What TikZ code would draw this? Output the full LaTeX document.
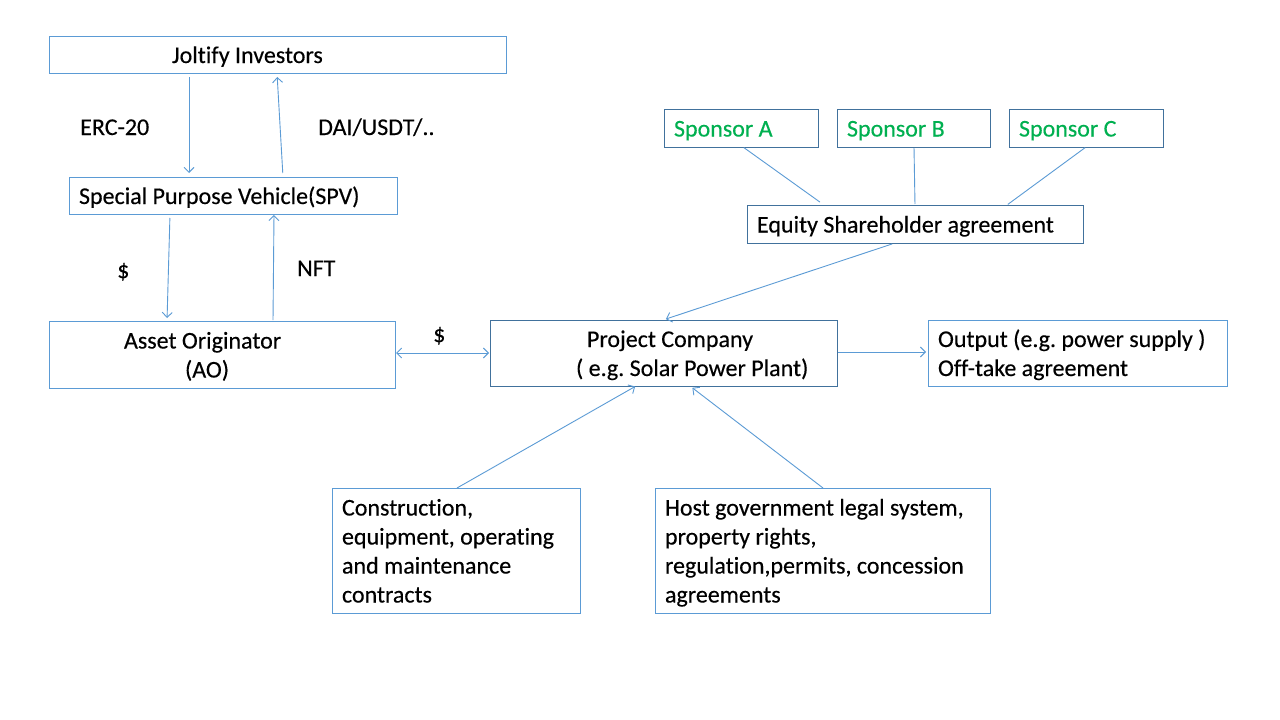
\documentclass[tikz,border=0pt]{standalone}
\usepackage{fontspec}
\setmainfont{Carlito}[RawFeature=-liga,FakeBold=0.3]
\usetikzlibrary{arrows.meta}
\definecolor{lb}{HTML}{5B9BD5}
\definecolor{db}{HTML}{41719C}
\definecolor{sg}{HTML}{00B050}
\frenchspacing
\newcommand{\diagfont}{\fontsize{24}{29}\selectfont\spaceskip=5.4pt\relax}
\begin{document}
\begin{tikzpicture}[x=1pt,y=-1pt,
  box/.style={draw=lb,line width=1pt,inner xsep=10pt,inner ysep=0pt,align=left,
    font=\diagfont,text=black,outer sep=0pt,
    execute at begin node={\spaceskip=5.4pt\relax\rule{0pt}{23.5pt}},
    execute at end node={\rule[-6.5pt]{0pt}{6.5pt}}},
  dbox/.style={box,draw=db},
  conn/.style={draw=lb,line width=0.9pt},
  arr/.style={conn,-{Straight Barb[length=5pt,width=10pt]}},
  darr/.style={conn,{Straight Barb[length=5pt,width=10pt]}-{Straight Barb[length=5pt,width=10pt]}},
  lbl/.style={font=\diagfont,anchor=base west,inner sep=0pt}]
\useasboundingbox (0,0) rectangle (1280,720);
\fill[white] (0,0) rectangle (1280,720);

% boxes
\node[box,minimum width=457pt,minimum height=37pt,text width=437pt] (jolt) at (277.5,54.5) {\hspace*{113pt}Joltify Investors};
\node[box,minimum width=328pt,minimum height=37pt,text width=308pt] (spv) at (233,195.5) {Special Purpose Vehicle(SPV)};
\node[box,minimum width=346pt,minimum height=67pt,text width=326pt] (ao) at (222,354.5) {\hspace*{65pt}Asset Originator\\\hspace*{126pt}(AO)};
\node[dbox,minimum width=347pt,minimum height=66pt,text width=327pt] (pc) at (663.5,353) {\hspace*{87pt}Project Company\\\hspace*{76pt}( e.g. Solar Power Plant)};
\node[box,minimum width=299pt,minimum height=66pt,text width=279pt] (out) at (1077.5,353) {\mbox{Output (e.g. power supply )}\\Off-take agreement};
\node[dbox,minimum width=154pt,minimum height=38pt,text width=134pt,text=sg] (spA) at (741,128) {Sponsor A};
\node[dbox,minimum width=153pt,minimum height=38pt,text width=133pt,text=sg] (spB) at (913.5,128) {Sponsor B};
\node[dbox,minimum width=154pt,minimum height=38pt,text width=134pt,text=sg] (spC) at (1086,128) {Sponsor C};
\node[dbox,minimum width=336pt,minimum height=38pt,text width=316pt] (eq) at (915,224) {Equity Shareholder agreement};
\node[box,minimum width=248pt,minimum height=125pt,text width=228pt] (cons) at (456,550.5) {Construction,\\equipment, operating\\and maintenance\\contracts};
\node[box,minimum width=335pt,minimum height=125pt,text width=315pt] (host) at (822.5,550.5) {Host government legal system,\\property rights,\\regulation,permits, concession\\agreements};

% connectors
\draw[arr,shorten <=4pt,shorten >=4pt] (jolt.south -| 189,0) -- (spv.north -| 189,0);
\draw[arr,shorten <=4pt,shorten >=4pt] (spv.north -| 283,0) -- (jolt.south -| 277,0);
\draw[arr,shorten <=4pt,shorten >=3pt] (spv.south -| 170,0) -- (ao.north -| 167,0);
\draw[arr,shorten <=1pt,shorten >=1pt] (ao.north -| 273,0) -- (spv.south -| 274,0);
\draw[darr,shorten <=1pt,shorten >=1pt] (ao.east |- 0,353) -- (pc.west |- 0,353);
\draw[arr,shorten <=3pt,shorten >=3pt] (eq.south -| 895,0) -- (pc.north -| 663,0);
\draw[arr,shorten <=1pt,shorten >=2pt] (pc.east |- 0,352) -- (out.west |- 0,352);
\draw[arr,shorten >=1pt] (cons.north -| 457,0) -- (pc.south -| 636,0);
\draw[arr,shorten >=3pt] (host.north -| 823,0) -- (pc.south -| 690,0);
\draw[conn,shorten <=1pt,shorten >=5pt] (spA.south -| 743,0) -- (eq.north -| 824,0);
\draw[conn,shorten <=1pt,shorten >=1pt] (spB.south -| 914,0) -- (eq.north -| 915,0);
\draw[conn,shorten <=1pt,shorten >=1pt] (spC.south -| 1086,0) -- (eq.north -| 1007,0);

% labels
\node[lbl] (erc) at (80,135) {ERC-20};
\node[lbl] (dai) at (318,135) {DAI/USDT/..};
\node[lbl] (usd1) at (117,278) {\$};
\node[lbl] (nft) at (297,276) {NFT};
\node[lbl] (usd2) at (433,342) {\$};
\end{tikzpicture}
\end{document}
